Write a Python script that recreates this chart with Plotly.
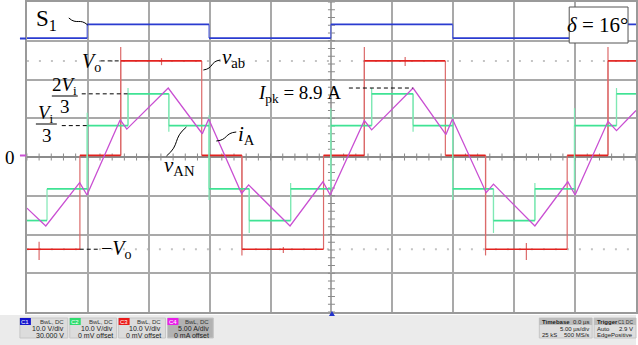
import plotly.graph_objects as go

W, H = 638, 345

# ---- acquisition settings -------------------------------------------------
T_DIV = 5.0            # us/div, 10 divisions across
C1_SCALE, C1_OFFSET = 10.0, 30.0   # V/div, V
C2_SCALE = 10.0        # V/div
C3_SCALE = 10.0        # V/div
C4_SCALE = 5.0         # A/div

# ---- C1: gate signal S1 (V), step edges -----------------------------------
s1_t = [0.0, 4.95, 14.95, 24.95, 34.95, 44.95, 50.0]
s1_v = [0.7, 4.2, 0.7, 4.2, 0.7, 4.2, 4.2]

# ---- C3: bridge output voltage v_ab (V) ------------------------------------
vab_t = [0.0, 4.35, 7.7, 14.35, 17.65, 24.35, 27.7, 34.35, 37.65, 44.35, 47.7, 50.0]
vab_v = [-23.8, 0.4, 24.8, 0.4, -23.8, 0.4, 24.8, 0.4, -23.8, 0.4, 24.8, 24.8]
# switching transients on v_ab: time (us), min (V), max (V)
vab_spk_t = [1.0, 7.7, 11.05, 17.65, 21.05, 27.7, 31.05, 37.65, 41.0, 47.7]
vab_spk_lo = [-26.6, 0.4, 23.7, -25.4, -24.8, 0.4, 23.5, -25.4, -26.6, 0.4]
vab_spk_hi = [-21.9, 28.4, 25.5, 0.4, -23.2, 28.4, 25.8, 0.4, -22.2, 28.4]

# ---- C2: phase voltage v_AN (V), six-step levels ---------------------------
van_t = [0.0, 1.65, 4.95, 8.3, 11.65, 14.95, 18.25, 21.65, 24.95, 28.3, 31.7,
         34.95, 38.3, 41.7, 44.95, 48.4, 50.0]
van_v = [-16.4, -8.2, 8.1, 16.3, 8.1, -8.2, -16.4, -8.2, 8.1, 16.3, 8.1,
         -8.2, -16.4, -8.2, 8.1, 16.3, 16.3]
van_spk_t = [4.95, 8.3, 11.65, 14.95, 18.25, 21.65, 24.95, 28.3, 31.7, 34.95, 38.3, 41.7, 44.95, 48.4]
van_spk_lo = [-8.2, 8.1, 6.5, -11.1, -19.6, -16.4, -8.2, 8.1, 6.5, -11.1, -19.6, -16.4, -8.2, 8.1]
van_spk_hi = [11.4, 17.8, 16.3, 10.8, -8.2, -6.7, 12.6, 17.8, 16.3, 11.0, -8.2, -6.7, 12.6, 17.8]

# ---- C4: phase current i_A (A), piecewise-linear vertices ------------------
ia_t = [0.0, 1.55, 4.33, 4.93, 7.66, 8.2, 11.6, 14.4, 14.92, 17.62, 18.2, 21.6,
        24.3, 24.9, 27.7, 28.3, 31.7, 34.4, 34.93, 37.7, 38.3, 41.7, 44.4, 45.0,
        47.7, 48.4, 50.0]
ia_v = [-6.6, -8.9, -3.3, -4.9, 4.8, 3.6, 8.9, 3.0, 4.9, -4.7, -3.6, -8.9,
        -3.2, -4.9, 4.7, 3.5, 8.9, 2.9, 4.9, -4.6, -3.5, -8.9, -3.2, -4.9,
        4.6, 3.4, 6.0]
I_PK = 8.9
DELTA_DEG = 16

# screen colours (flat level, fast edge)
BLUE, BLUE_E = "#2a3bd0", "#5a68dc"
GREEN, GREEN_E = "#3fe394", "#7fe8b4"
RED, RED_E = "#e3221f", "#dc6a6a"
MAG = "#c94fd2"
GRID = "#a9a9a9"
SERIF = "Liberation Serif"
SANS = "Liberation Sans"
NB = "\u00a0"


def c1(v):
    return (v + C1_OFFSET) / C1_SCALE


def levels(ts, vs, conv):
    """Flat parts of a stepped trace."""
    xs, ys = [], []
    for i in range(len(ts) - 1):
        xs += [ts[i], ts[i + 1], None]
        ys += [conv(vs[i]), conv(vs[i]), None]
    return xs, ys


def edges(ts, vs, conv):
    """Switching edges of a stepped trace."""
    xs, ys = [], []
    for i in range(1, len(ts) - 1):
        xs += [ts[i], ts[i], None]
        ys += [conv(vs[i - 1]), conv(vs[i]), None]
    return xs, ys


def spikes(ts, lo, hi, conv):
    xs, ys = [], []
    for t, a, b in zip(ts, lo, hi):
        xs += [t, t, None]
        ys += [conv(a), conv(b), None]
    return xs, ys


def line_trace(xy, color, width):
    return go.Scatter(x=xy[0], y=xy[1], mode="lines", line=dict(color=color, width=width),
                      showlegend=False, hoverinfo="skip", connectgaps=False)


fig = go.Figure()

# graticule tick marks on the centre cross
fig.add_trace(go.Scatter(x=[k * 1.0 for k in range(51)], y=[0] * 51, mode="markers",
                         marker=dict(symbol="line-ns", size=5, line=dict(color="#8a8a8a", width=1)),
                         hoverinfo="skip", showlegend=False))
fig.add_trace(go.Scatter(x=[25] * 41, y=[-4 + 0.2 * k for k in range(41)], mode="markers",
                         marker=dict(symbol="line-ew", size=5, line=dict(color="#8a8a8a", width=1)),
                         hoverinfo="skip", showlegend=False))

f3 = lambda v: v / C3_SCALE
f2 = lambda v: v / C2_SCALE

# C1
fig.add_trace(line_trace(edges(s1_t, s1_v, c1), BLUE_E, 1.2))
fig.add_trace(line_trace(levels(s1_t, s1_v, c1), BLUE, 1.8))
# C3
fig.add_trace(line_trace(edges(vab_t, vab_v, f3), RED_E, 1.2))
fig.add_trace(line_trace(spikes(vab_spk_t, vab_spk_lo, vab_spk_hi, f3), RED_E, 1.2))
fig.add_trace(line_trace(levels(vab_t, vab_v, f3), RED, 1.7))
# C2
fig.add_trace(line_trace(edges(van_t, van_v, f2), GREEN_E, 1.2))
fig.add_trace(line_trace(spikes(van_spk_t, van_spk_lo, van_spk_hi, f2), GREEN_E, 1.2))
fig.add_trace(line_trace(levels(van_t, van_v, f2), GREEN, 1.7))
# C4
fig.add_trace(go.Scatter(x=ia_t, y=[v / C4_SCALE for v in ia_v], mode="lines",
                         line=dict(color=MAG, width=1.3), showlegend=False, hoverinfo="skip"))

X0, X1 = 27, 638
Y0, Y1 = 2, 312


def pxx(x):
    return x / W


def pxy(y):
    return 1 - y / H


def t_of(px):
    return (px - X0) / (X1 - X0) * 10 * T_DIV


shapes = []
annotations = []


def seg(x0, y0, x1, y1, color="black", width=1, dash=None, ref="paper", layer="above"):
    d = dict(type="line", x0=x0, y0=y0, x1=x1, y1=y1, layer=layer,
             line=dict(color=color, width=width))
    if dash:
        d["line"]["dash"] = dash
    if ref == "data":
        d.update(xref="x", yref="y")
    else:
        d.update(xref="paper", yref="paper")
    shapes.append(d)


def squiggle(p0, p1, amp=4.0):
    (x0, y0), (x1, y1) = p0, p1
    dx, dy = x1 - x0, y1 - y0
    L = (dx * dx + dy * dy) ** 0.5
    nx, ny = -dy / L * amp, dx / L * amp
    c1p = (x0 + dx * 0.5 + nx, y0 + dy * 0.5 + ny)
    c2p = (x0 + dx * 0.5 - nx, y0 + dy * 0.5 - ny)
    pts = [(x0, y0), c1p, c2p, (x1, y1)]
    pp = [(pxx(a), pxy(b)) for a, b in pts]
    path = "M{:.5f},{:.5f} C{:.5f},{:.5f} {:.5f},{:.5f} {:.5f},{:.5f}".format(
        pp[0][0], pp[0][1], pp[1][0], pp[1][1], pp[2][0], pp[2][1], pp[3][0], pp[3][1])
    shapes.append(dict(type="path", path=path, xref="paper", yref="paper",
                       line=dict(color="black", width=1)))


def text(x, y, s, size=18, family=SERIF, color="black", xanchor="center", yanchor="middle", **kw):
    annotations.append(dict(x=pxx(x), y=pxy(y), xref="paper", yref="paper", text=s,
                            showarrow=False, xanchor=xanchor, yanchor=yanchor,
                            font=dict(size=size, family=family, color=color), **kw))


# dotted cursor guides at +/- Vo (behind the traces)
vo_hi = vab_v[2] / C3_SCALE
vo_lo = vab_v[0] / C3_SCALE
for lvl in (vo_hi, vo_lo):
    seg(0, lvl, 50, lvl, color="#c4c4c4", width=2, dash="2px,10px", ref="data", layer="below")

# labels and leaders
text(47, 20, "S<sub>1</sub>", size=23)
squiggle((69, 18), (88, 25), amp=4)

text(92, 62, "<i>V</i><sub>o</sub>", size=20)
seg(t_of(101), vo_hi, t_of(121), vo_hi, dash="4px,3px", ref="data")

text(234, 58, "<i>v</i><sub>ab</sub>", size=21)
squiggle((204, 70), (221, 60), amp=4)

# 2Vi/3 fraction
text(65, 86, "2<i>V</i><sub>i</sub>", size=19)
seg(pxx(52), pxy(96), pxx(78), pxy(96), width=1)
text(65, 106, "3", size=19)
lvl2 = van_v[3] / C2_SCALE
seg(t_of(82), lvl2, t_of(128), lvl2, dash="4px,3px", ref="data")

# Vi/3 fraction
text(46, 114, "<i>V</i><sub>i</sub>", size=19)
seg(pxx(36), pxy(124), pxx(57), pxy(124), width=1)
text(47, 135, "3", size=19)
lvl1 = van_v[2] / C2_SCALE
seg(t_of(62), lvl1, t_of(87), lvl1, dash="4px,3px", ref="data")

text(10, 157, "0", size=19)

text(180, 166, "<i>v</i><sub>AN</sub>", size=21)
squiggle((167, 156), (187, 127), amp=5)

text(247, 135, "<i>i</i><sub>A</sub>", size=21)
squiggle((217, 141), (237, 132), amp=4)

text(300, 94, "<i>I</i><sub>pk</sub>" + NB + "=" + NB + "%.1f" % I_PK + NB + "A", size=19)
seg(t_of(350), I_PK / C4_SCALE, t_of(414), I_PK / C4_SCALE, dash="4px,3px", ref="data")

text(117, 249, "\u2212<i>V</i><sub>o</sub>", size=20)
seg(t_of(80), vo_lo, t_of(100), vo_lo, dash="4px,3px", ref="data")

# delta box
shapes.append(dict(type="rect", xref="paper", yref="paper", x0=pxx(571), x1=pxx(630),
                   y0=pxy(43), y1=pxy(7), fillcolor="white", line=dict(color="#555555", width=1)))
text(600, 25, "<i>\u03b4</i>" + NB + "=" + NB + "%d\u00b0" % DELTA_DEG, size=21)

# channel zero markers at left edge
seg(pxx(20), pxy(155.5), pxx(26), pxy(155.5), color=MAG, width=2)
seg(pxx(20), pxy(38.5), pxx(26), pxy(38.5), color=BLUE, width=2)

# ---- status bar -----------------------------------------------------------
shapes.append(dict(type="rect", xref="paper", yref="paper", x0=0, x1=1, y0=0, y1=pxy(315),
                   fillcolor="#ebebeb", line=dict(width=0), layer="below"))
# trigger position marker
shapes.append(dict(type="path", xref="paper", yref="paper",
                   path="M{:.5f},{:.5f} L{:.5f},{:.5f} L{:.5f},{:.5f} Z".format(
                       pxx(330), pxy(316), pxx(336), pxy(316), pxx(333), pxy(311)),
                   fillcolor="#2233cc", line=dict(width=0)))

chan = [
    (20, 68, "C1", "#1414cc", "10.0 V/div", "30.000 V", "#dcdcdc"),
    (70, 117, "C2", "#2fdc6e", "10.0 V/div", "0 mV offset", "#dcdcdc"),
    (119, 166, "C3", "#ea1a1a", "10.0 V/div", "0 mV offset", "#dcdcdc"),
    (168, 214, "C4", "#e81ee8", "5.00 A/div", "0 mA offset", "#b2b2b2"),
]
for xa, xb, name, col, l2, l3, fill in chan:
    shapes.append(dict(type="rect", xref="paper", yref="paper", x0=pxx(xa), x1=pxx(xb),
                       y0=pxy(338), y1=pxy(318), fillcolor=fill,
                       line=dict(color="#c6c6c6", width=1)))
    shapes.append(dict(type="rect", xref="paper", yref="paper", x0=pxx(xa), x1=pxx(xa + 11),
                       y0=pxy(325), y1=pxy(318), fillcolor=col, line=dict(width=0)))
    text(xa + 5.5, 321.5, name, size=6, family=SANS, color="white")
    text(xb - 2, 321.5, "BwL, DC", size=6, family=SANS, color="#333", xanchor="right")
    text(xb - 2, 328.5, l2, size=7, family=SANS, color="#222", xanchor="right")
    text(xb - 2, 335, l3, size=7, family=SANS, color="#222", xanchor="right")

# timebase and trigger
for xa, xb in ((541, 594), (596, 638)):
    shapes.append(dict(type="rect", xref="paper", yref="paper", x0=pxx(xa), x1=pxx(xb),
                       y0=pxy(338), y1=pxy(318), fillcolor="#dedede",
                       line=dict(color="#c6c6c6", width=1)))
    shapes.append(dict(type="rect", xref="paper", yref="paper", x0=pxx(xa), x1=pxx(xb),
                       y0=pxy(325), y1=pxy(318), fillcolor="#bcbcbc", line=dict(width=0)))
text(542, 321.5, "<b>Timebase</b>", size=6, family=SANS, color="#222", xanchor="left")
text(593, 321.5, "0.0 \u00b5s", size=6, family=SANS, color="#222", xanchor="right")
text(593, 328.5, "5.00 \u00b5s/div", size=6, family=SANS, color="#222", xanchor="right")
text(542, 335, "25 kS", size=6, family=SANS, color="#222", xanchor="left")
text(593, 335, "500 MS/s", size=6, family=SANS, color="#222", xanchor="right")
text(597, 321.5, "<b>Trigger</b>", size=6, family=SANS, color="#222", xanchor="left")
text(637, 321.5, "C1 DC", size=5, family=SANS, color="#333", xanchor="right")
text(597, 328.5, "Auto", size=6, family=SANS, color="#222", xanchor="left")
text(637, 328.5, "2.9 V", size=6, family=SANS, color="#222", xanchor="right")
text(597, 335, "Edge", size=6, family=SANS, color="#222", xanchor="left")
text(637, 335, "Positive", size=6, family=SANS, color="#222", xanchor="right")

fig.update_layout(
    width=W, height=H, margin=dict(l=0, r=0, t=0, b=0),
    paper_bgcolor="white", plot_bgcolor="white",
    shapes=shapes, annotations=annotations,
    xaxis=dict(domain=[X0 / W, 1.0], range=[0, 10 * T_DIV], dtick=T_DIV, showgrid=True,
               gridcolor=GRID, gridwidth=1.6, zeroline=False, showticklabels=False,
               showline=True, linecolor="#9a9a9a", linewidth=1.5, mirror=True, ticks=""),
    yaxis=dict(domain=[1 - Y1 / H, 1 - Y0 / H], range=[-4, 4], dtick=1, showgrid=True,
               gridcolor=GRID, gridwidth=1.6, zeroline=True, zerolinecolor="#8c8c8c",
               zerolinewidth=1.5, showticklabels=False, showline=True, linecolor="#9a9a9a",
               linewidth=1.5, mirror=True, ticks=""),
)

fig.write_html("out.html")
